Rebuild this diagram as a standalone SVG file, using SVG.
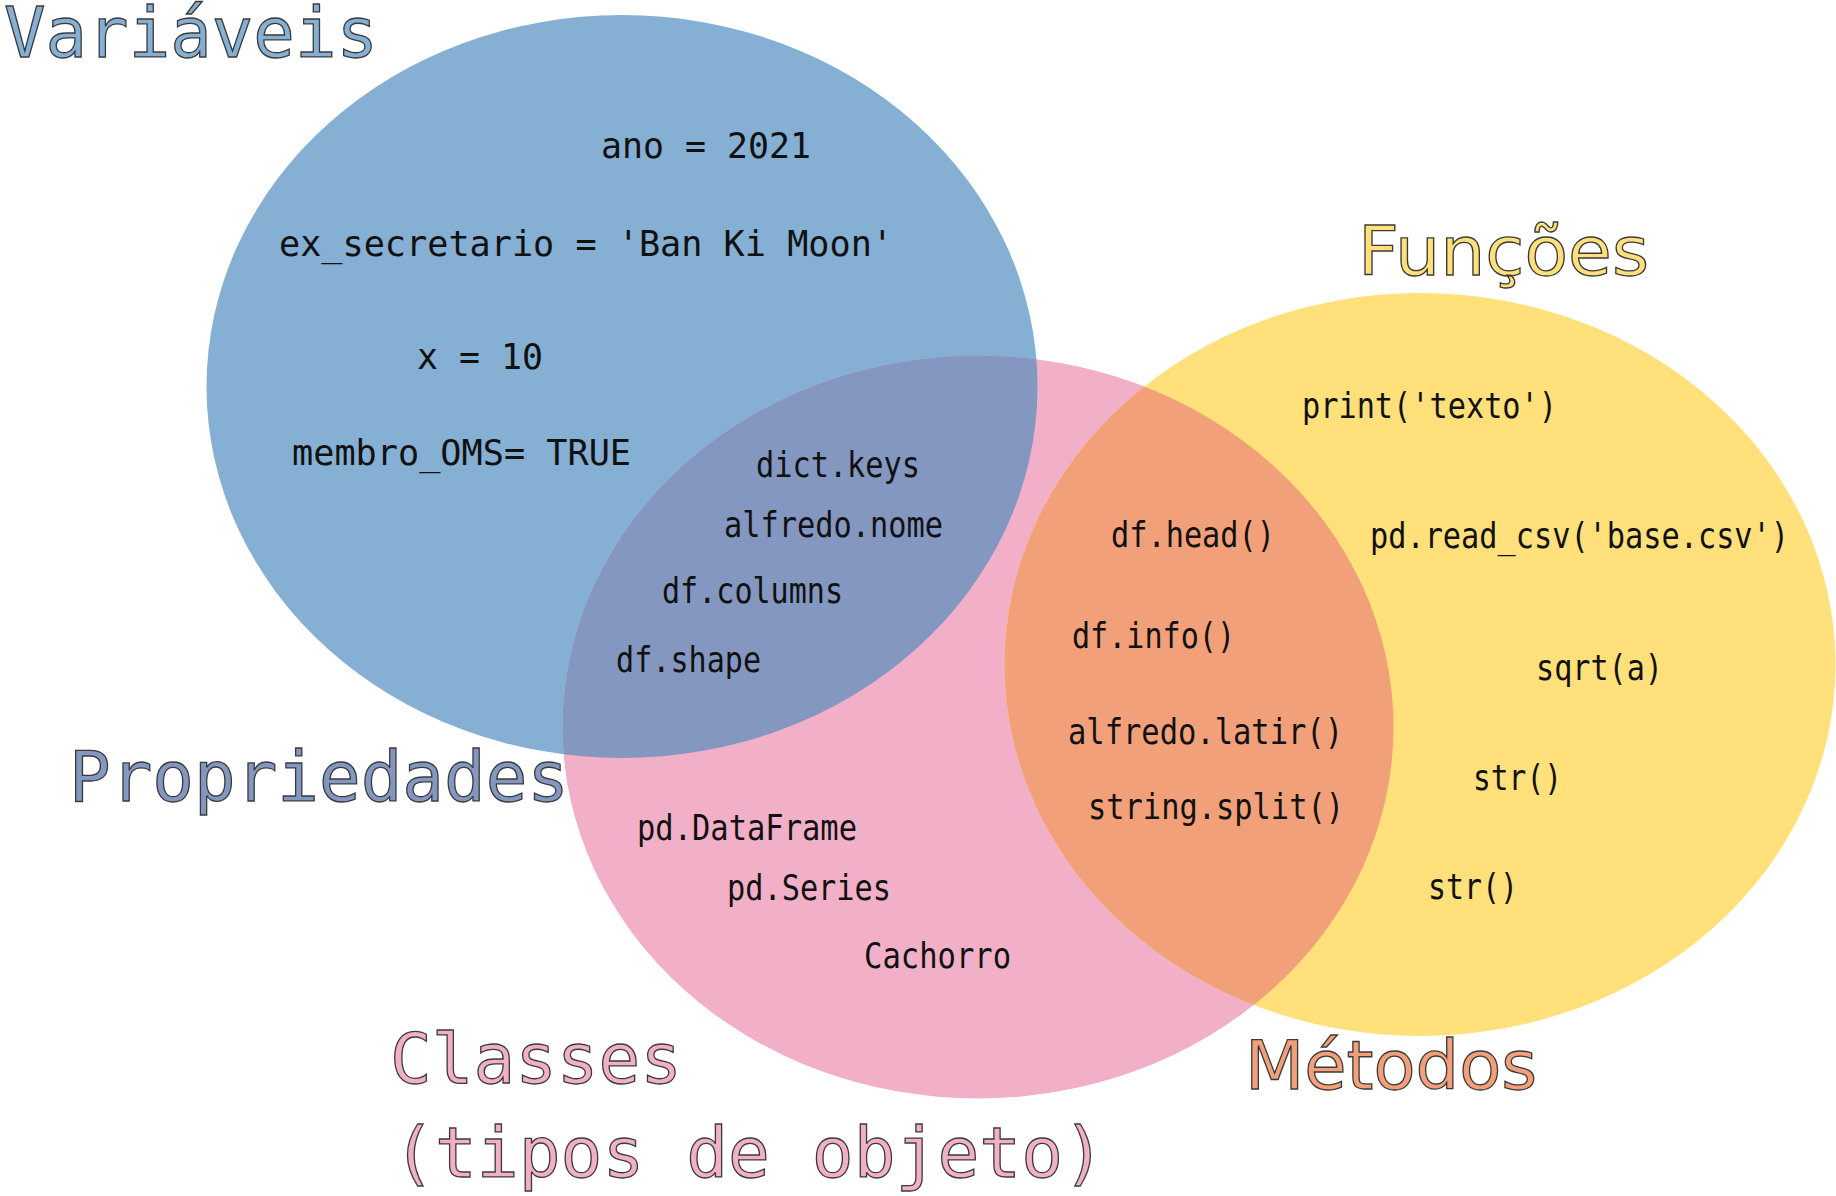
<svg xmlns="http://www.w3.org/2000/svg" width="1836" height="1196" viewBox="0 0 1836 1196">
  <defs>
    <style>
      .code { font-family: "DejaVu Sans Mono", "Liberation Mono", monospace; font-size: 36px; fill: #111111; }
      .title { font-family: "DejaVu Sans Mono", "Liberation Mono", monospace; font-size: 69px; stroke: #3a3a3a; stroke-width: 1.3px; }
      .title-sans { font-family: "DejaVu Sans", "Liberation Sans", sans-serif; font-size: 68px; stroke: #3a3a3a; stroke-width: 1.3px; }
    </style>
    <ellipse id="e-var" cx="622" cy="386.5" rx="415.5" ry="371.5"/>
    <ellipse id="e-cls" cx="978" cy="727" rx="415.5" ry="371.5"/>
    <ellipse id="e-fun" cx="1420" cy="664.5" rx="415.5" ry="371.5"/>
    <clipPath id="clip-var"><use href="#e-var"/></clipPath>
    <clipPath id="clip-fun"><use href="#e-fun"/></clipPath>
  </defs>

  <rect width="1836" height="1196" fill="#ffffff"/>

  <!-- sets -->
  <g id="set-variaveis"><use href="#e-var" fill="#85afd3"/></g>
  <g id="set-classes"><use href="#e-cls" fill="#f1b0c7"/></g>
  <g id="set-funcoes"><use href="#e-fun" fill="#ffe07a"/></g>

  <!-- intersections -->
  <g id="set-propriedades"><use href="#e-cls" fill="#8497c0" clip-path="url(#clip-var)"/></g>
  <g id="set-metodos"><use href="#e-cls" fill="#f2a07a" clip-path="url(#clip-fun)"/></g>

  <!-- headings -->
  <g id="labels">
    <text class="title" x="4" y="57" fill="#85afd3" font-size="64" textLength="374" lengthAdjust="spacingAndGlyphs">Variáveis</text>
    <text class="title-sans" x="1358" y="275" fill="#ffe07a" textLength="291" lengthAdjust="spacingAndGlyphs">Funções</text>
    <text class="title" x="69" y="801" fill="#8497c0" textLength="500" lengthAdjust="spacingAndGlyphs">Propriedades</text>
    <text class="title" x="390" y="1083" fill="#f1b0c7" textLength="292" lengthAdjust="spacingAndGlyphs">Classes</text>
    <text class="title" x="393" y="1177" fill="#f1b0c7" textLength="712" lengthAdjust="spacingAndGlyphs">(tipos de objeto)</text>
    <text class="title-sans" x="1245" y="1089" fill="#f2a07a" textLength="292" lengthAdjust="spacingAndGlyphs">Métodos</text>
  </g>

  <!-- members -->
  <g id="items-variaveis">
    <text class="code" x="601" y="158" textLength="210" lengthAdjust="spacingAndGlyphs">ano = 2021</text>
    <text class="code" x="279" y="256" textLength="614" lengthAdjust="spacingAndGlyphs">ex_secretario = 'Ban Ki Moon'</text>
    <text class="code" x="417" y="369" textLength="126" lengthAdjust="spacingAndGlyphs">x = 10</text>
    <text class="code" x="292" y="465" textLength="339" lengthAdjust="spacingAndGlyphs">membro_OMS= TRUE</text>
  </g>
  <g id="items-propriedades">
    <text class="code" x="756" y="477" textLength="164" lengthAdjust="spacingAndGlyphs">dict.keys</text>
    <text class="code" x="724" y="537" textLength="219" lengthAdjust="spacingAndGlyphs">alfredo.nome</text>
    <text class="code" x="662" y="603" textLength="181" lengthAdjust="spacingAndGlyphs">df.columns</text>
    <text class="code" x="616" y="672" textLength="145" lengthAdjust="spacingAndGlyphs">df.shape</text>
  </g>
  <g id="items-classes">
    <text class="code" x="637" y="840" textLength="220" lengthAdjust="spacingAndGlyphs">pd.DataFrame</text>
    <text class="code" x="727" y="900" textLength="164" lengthAdjust="spacingAndGlyphs">pd.Series</text>
    <text class="code" x="864" y="968" textLength="147" lengthAdjust="spacingAndGlyphs">Cachorro</text>
  </g>
  <g id="items-metodos">
    <text class="code" x="1111" y="547" textLength="164" lengthAdjust="spacingAndGlyphs">df.head()</text>
    <text class="code" x="1072" y="648" textLength="163" lengthAdjust="spacingAndGlyphs">df.info()</text>
    <text class="code" x="1068" y="744" textLength="275" lengthAdjust="spacingAndGlyphs">alfredo.latir()</text>
    <text class="code" x="1088" y="819" textLength="256" lengthAdjust="spacingAndGlyphs">string.split()</text>
  </g>
  <g id="items-funcoes">
    <text class="code" x="1302" y="418" textLength="255" lengthAdjust="spacingAndGlyphs">print('texto')</text>
    <text class="code" x="1370" y="548" textLength="419" lengthAdjust="spacingAndGlyphs">pd.read_csv('base.csv')</text>
    <text class="code" x="1536" y="680" textLength="127" lengthAdjust="spacingAndGlyphs">sqrt(a)</text>
    <text class="code" x="1473" y="790" textLength="89" lengthAdjust="spacingAndGlyphs">str()</text>
    <text class="code" x="1428" y="899" textLength="90" lengthAdjust="spacingAndGlyphs">str()</text>
  </g>

  <g id="connectors"/>
</svg>
